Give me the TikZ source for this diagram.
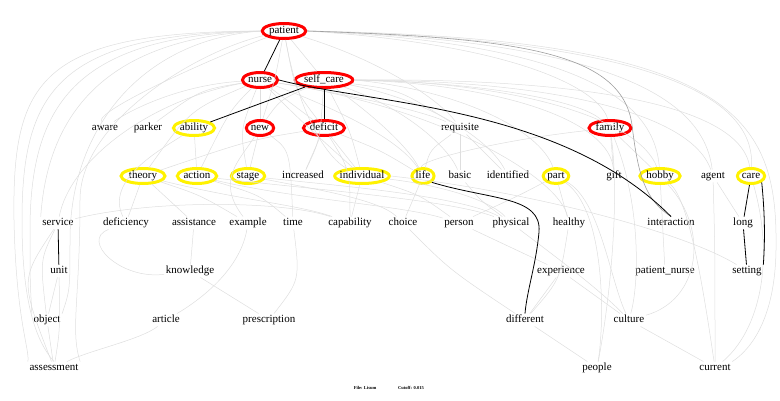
\documentclass[tikz,border=0pt]{standalone}
\usepackage{fontspec}
\setmainfont{Liberation Serif}
\usetikzlibrary{shapes.geometric}
\begin{document}
\begin{tikzpicture}[x=1pt,y=-1pt,
 lbl/.style={font=\fontsize{11}{13}\selectfont, inner sep=1.5pt, text height=7.5pt, text depth=2pt},
 redn/.style={lbl, ellipse, draw=red, line width=3pt, inner xsep=0.5pt, inner ysep=0pt, minimum height=15pt},
 yel/.style={redn, draw=yellow},
 lt/.style={draw=black!13, line width=0.5pt},
 dk/.style={draw=black, line width=0.8pt},
 md/.style={draw=black!38, line width=0.6pt},
 foot/.style={font=\fontsize{4.5}{5}\selectfont\bfseries, inner sep=0pt}]
\useasboundingbox (0,0) rectangle (780,400);
% row 1
\node[redn] (patient) at (284,31) {patient};
% row 2
\node[redn] (nurse) at (260,80) {nurse};
\node[redn] (self_care) at (324,80) {self\_care};
% row 3
\node[lbl] (aware) at (105,128) {aware};
\node[lbl] (parker) at (148,128) {parker};
\node[yel] (ability) at (194,128) {ability};
\node[redn] (new) at (260,128) {new};
\node[redn] (deficit) at (324,128) {deficit};
\node[lbl] (requisite) at (460,128) {requisite};
\node[redn] (family) at (610,128) {family};
% row 4
\node[yel, minimum width=44pt] (theory) at (143,176) {theory};
\node[yel] (action) at (197,176) {action};
\node[yel] (stage) at (248,176) {stage};
\node[lbl] (increased) at (303,176) {increased};
\node[yel, inner xsep=-3pt] (individual) at (362,176) {individual};
\node[yel] (life) at (423,176) {life};
\node[lbl] (basic) at (460,176) {basic};
\node[lbl] (identified) at (508,176) {identified};
\node[yel] (part) at (556,176) {part};
\node[lbl] (gift) at (614,176) {gift};
\node[yel] (hobby) at (660,176) {hobby};
\node[lbl] (agent) at (713,176) {agent};
\node[yel] (care) at (751,176) {care};
% row 5
\node[lbl] (service) at (58,223) {service};
\node[lbl] (deficiency) at (126,223) {deficiency};
\node[lbl] (assistance) at (194,223) {assistance};
\node[lbl] (example) at (248,223) {example};
\node[lbl] (time) at (293,223) {time};
\node[lbl] (capability) at (350,223) {capability};
\node[lbl] (choice) at (403,223) {choice};
\node[lbl] (person) at (459,223) {person};
\node[lbl] (physical) at (511,223) {physical};
\node[lbl] (healthy) at (569,223) {healthy};
\node[lbl] (interaction) at (671,223) {interaction};
\node[lbl] (long) at (743,223) {long};
% row 6
\node[lbl] (unit) at (59,271) {unit};
\node[lbl] (knowledge) at (190,271) {knowledge};
\node[lbl] (experience) at (561,271) {experience};
\node[lbl] (patient_nurse) at (665,271) {patient\_nurse};
\node[lbl] (setting) at (747,271) {setting};
% row 7
\node[lbl] (object) at (47,320) {object};
\node[lbl] (article) at (166,320) {article};
\node[lbl] (prescription) at (269,320) {prescription};
\node[lbl] (different) at (525,320) {different};
\node[lbl] (culture) at (629,320) {culture};
% row 8
\node[lbl] (assessment) at (54,368) {assessment};
\node[lbl] (people) at (597,368) {people};
\node[lbl] (current) at (715,368) {current};
% footer
\node[foot] (fileinfo) at (365,388) {File: Lisum};
\node[foot] (cutoff) at (411,388) {Cutoff: 0.015};

% ---------- light edges ----------
% patient, left arcs
\draw[lt] (patient.west) .. controls (40,32) and (12,80) .. (14,220) .. controls (16,320) and (30,350) .. (assessment.north west);
\draw[lt] (patient.west) .. controls (60,34) and (22,90) .. (22,220) .. controls (22,300) and (35,340) .. (assessment.north);
\draw[lt] (patient.west) .. controls (80,36) and (30,100) .. (30,230) .. controls (30,280) .. (object.north west);
\draw[lt] (patient.west) .. controls (110,38) and (48,110) .. (service.north west);
\draw[lt] (patient.west) .. controls (140,40) and (70,130) .. (70,240) .. controls (70,290) .. (object.north east);
\draw[lt] (patient) .. controls (200,50) and (80,120) .. (80,200) .. controls (80,300) and (70,330) .. (assessment.north east);
\draw[lt] (patient) .. controls (220,55) and (95,110) .. (aware);
% patient, right arcs
\draw[lt] (patient.east) .. controls (740,38) and (778,120) .. (776,250) .. controls (775,320) and (750,350) .. (current.north east);
\draw[lt] (patient.east) .. controls (690,40) and (755,110) .. (care);
\draw[lt] (patient.east) .. controls (640,42) and (705,110) .. (agent);
\draw[lt] (patient.east) .. controls (600,44) and (655,110) .. (hobby);
\draw[lt] (patient.east) .. controls (520,45) and (600,90) .. (family);
\draw[lt] (patient) .. controls (380,60) and (440,100) .. (requisite);
\draw[lt] (patient) -- (self_care);
\draw[lt] (patient) .. controls (295,90) .. (deficit);
\draw[lt] (patient) .. controls (275,80) .. (new);
\draw[lt] (patient) .. controls (300,120) and (330,160) .. (individual);
% nurse
\draw[lt] (nurse) .. controls (180,85) and (130,110) .. (aware);
\draw[lt] (nurse) .. controls (200,90) .. (parker);
\draw[lt] (nurse) -- (new);
\draw[lt] (nurse) -- (deficit);
\draw[lt] (nurse) .. controls (240,130) .. (stage);
\draw[lt] (nurse) .. controls (190,110) .. (theory);
\draw[lt] (nurse) .. controls (150,100) and (70,160) .. (service);
\draw[lt] (nurse) .. controls (340,110) and (400,140) .. (life);
\draw[lt] (nurse) .. controls (300,120) .. (individual);
\draw[lt] (nurse) .. controls (230,110) .. (action);
\draw[lt] (nurse) .. controls (350,95) and (420,110) .. (requisite);
\draw[lt] (nurse) .. controls (450,110) and (560,180) .. (healthy);
% self_care
\draw[lt] (self_care) .. controls (400,90) .. (requisite);
\draw[lt] (self_care.east) .. controls (480,82) and (580,100) .. (family);
\draw[lt] (self_care.east) .. controls (560,78) and (740,100) .. (care);
\draw[lt] (self_care.east) .. controls (540,80) and (690,110) .. (agent);
\draw[lt] (self_care.east) .. controls (520,82) and (640,120) .. (hobby);
\draw[lt] (self_care.east) .. controls (460,90) and (540,130) .. (part);
\draw[lt] (self_care) .. controls (430,100) and (490,140) .. (identified);
\draw[lt] (self_care) .. controls (410,110) and (450,150) .. (basic);
\draw[lt] (self_care) .. controls (380,120) and (410,150) .. (life);
\draw[lt] (self_care) .. controls (350,130) .. (individual);
\draw[lt] (self_care) .. controls (320,140) .. (increased);
\draw[lt] (self_care) .. controls (280,100) .. (new);
\draw[lt] (self_care.east) .. controls (500,84) and (610,120) .. (gift);
% third level
\draw[lt] (deficit) -- (increased);
\draw[lt] (deficit) .. controls (350,170) .. (capability);
\draw[lt] (deficit) .. controls (250,140) .. (theory);
\draw[lt] (deficit) -- (individual);
\draw[lt] (deficit) .. controls (380,150) .. (life);
\draw[lt] (new) -- (stage);
\draw[lt] (new) .. controls (240,160) and (215,180) .. (example);
\draw[lt] (new) .. controls (290,150) .. (time);
\draw[lt] (ability) .. controls (160,150) and (105,180) .. (deficiency);
\draw[lt] (ability) -- (action);
\draw[lt] (requisite) -- (basic);
\draw[lt] (requisite) -- (identified);
\draw[lt] (requisite) .. controls (430,150) .. (life);
\draw[lt] (family) .. controls (500,140) and (420,160) .. (life);
\draw[lt] (family) -- (gift);
\draw[lt] (family) -- (hobby);
\draw[lt] (family) .. controls (620,200) and (610,300) .. (people);
\draw[lt] (family) .. controls (640,200) and (640,280) .. (culture);
% fourth level
\draw[lt] (theory) -- (deficiency);
\draw[lt] (theory) -- (assistance);
\draw[lt] (theory) .. controls (200,195) .. (example);
\draw[lt] (theory) .. controls (240,200) and (300,205) .. (capability);
\draw[lt] (action) .. controls (260,195) .. (time);
\draw[lt] (action) .. controls (300,200) and (400,205) .. (person);
\draw[lt] (action) .. controls (320,190) and (450,200) .. (physical);
\draw[lt] (stage) .. controls (320,190) and (380,200) .. (choice);
\draw[lt] (stage) .. controls (330,185) and (460,195) .. (physical);
\draw[lt] (individual) -- (capability);
\draw[lt] (individual) .. controls (420,195) .. (person);
\draw[lt] (individual) .. controls (440,185) and (490,200) .. (physical);
\draw[lt] (individual.east) .. controls (520,190) and (680,230) .. (setting);
\draw[lt] (life) -- (choice);
\draw[lt] (basic) .. controls (480,200) .. (physical);
\draw[lt] (part) -- (healthy);
\draw[lt] (part) .. controls (520,195) .. (person);
\draw[lt] (part) .. controls (600,200) and (610,280) .. (culture);
\draw[lt] (part) .. controls (605,210) and (605,320) .. (people);
\draw[lt] (hobby) -- (patient_nurse);
\draw[lt] (hobby) .. controls (710,230) and (700,300) .. (culture);
\draw[lt] (hobby) .. controls (690,200) and (705,300) .. (current);
\draw[lt] (agent) .. controls (715,250) .. (current);
\draw[lt] (care) .. controls (775,260) and (760,330) .. (current);
\draw[lt] (agent) -- (long);
\draw[lt] (service) .. controls (150,200) and (280,200) .. (capability);
\draw[lt] (service) .. controls (40,260) .. (object);
\draw[lt] (service) .. controls (20,280) .. (assessment);
\draw[lt] (unit) -- (object);
\draw[lt] (unit) .. controls (60,330) .. (assessment);
\draw[lt] (object) -- (assessment);
\draw[lt] (article) .. controls (140,340) and (90,350) .. (assessment);
\draw[lt] (example) .. controls (240,270) and (200,300) .. (article);
\draw[lt] (assistance) -- (knowledge);
\draw[lt] (knowledge) -- (prescription);
\draw[lt] (time) .. controls (300,280) .. (prescription);
\draw[lt] (deficiency) .. controls (80,240) and (120,280) .. (knowledge);
\draw[lt] (person) -- (experience);
\draw[lt] (healthy) .. controls (560,280) .. (different);
\draw[lt] (experience) -- (different);
\draw[lt] (experience) -- (culture);
\draw[lt] (physical) .. controls (560,260) and (600,290) .. (culture);
\draw[lt] (choice) .. controls (450,270) .. (different);
\draw[lt] (different) -- (people);
\draw[lt] (culture) -- (current);

% ---------- darker edges ----------
\draw[md] (patient.east) .. controls (520,38) and (622,52) .. (632,125) .. controls (638,175) and (645,200) .. (interaction.north);
\draw[dk] (patient) -- (nurse);
\draw[dk] (nurse.east) .. controls (370,104) and (560,105) .. (interaction.north);
\draw[dk] (self_care) -- (ability);
\draw[dk] (self_care) -- (deficit);
\draw[dk] (life.south east) .. controls (490,200) and (542,196) .. (539,232) .. controls (536,265) and (527,290) .. (different.north);
\draw[dk] (service) -- (unit);
\draw[dk] (care) -- (long);
\draw[dk] (long) -- (setting);
\draw[dk] (care.south east) .. controls (765,215) and (765,240) .. (setting.north east);
\end{tikzpicture}
\end{document}
